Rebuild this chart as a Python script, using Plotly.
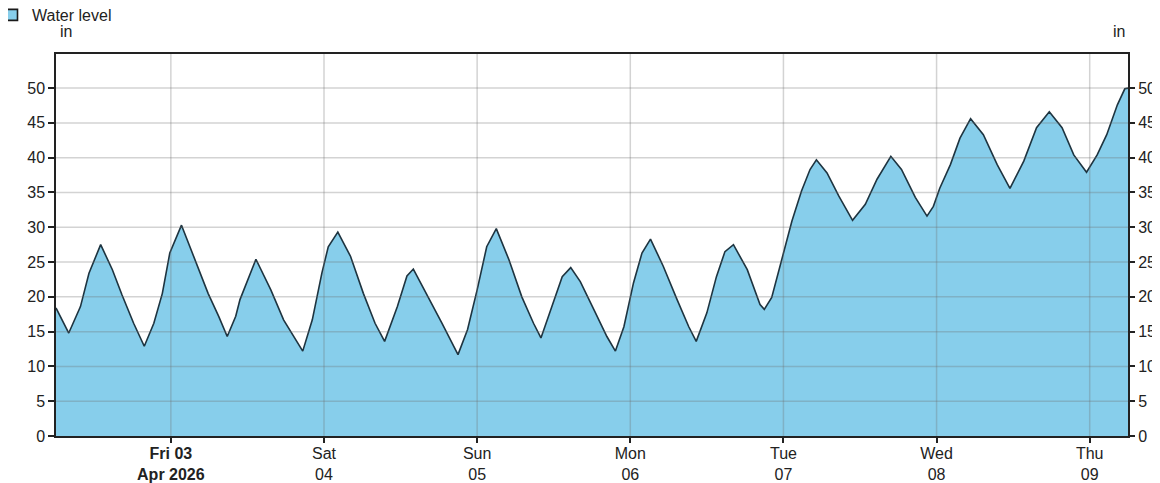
import plotly.graph_objects as go

# ---- data ----
times = [
    "2026-04-02 06:00", "2026-04-02 08:00", "2026-04-02 09:50", "2026-04-02 11:10", "2026-04-02 13:00",
    "2026-04-02 14:50", "2026-04-02 16:20", "2026-04-02 18:10", "2026-04-02 19:50", "2026-04-02 21:20",
    "2026-04-02 22:40", "2026-04-02 23:50", "2026-04-03 01:40", "2026-04-03 03:50", "2026-04-03 05:50",
    "2026-04-03 07:30", "2026-04-03 08:50", "2026-04-03 10:10", "2026-04-03 10:50", "2026-04-03 13:20",
    "2026-04-03 15:40", "2026-04-03 17:40", "2026-04-03 20:40", "2026-04-03 22:10", "2026-04-03 23:40",
    "2026-04-04 00:40", "2026-04-04 02:10", "2026-04-04 04:10", "2026-04-04 06:10", "2026-04-04 08:00",
    "2026-04-04 09:30", "2026-04-04 11:30", "2026-04-04 13:00", "2026-04-04 14:00", "2026-04-04 16:20",
    "2026-04-04 18:30", "2026-04-04 21:00", "2026-04-04 22:30", "2026-04-05 00:00", "2026-04-05 01:30",
    "2026-04-05 03:00", "2026-04-05 05:00", "2026-04-05 07:00", "2026-04-05 08:50", "2026-04-05 10:00",
    "2026-04-05 11:40", "2026-04-05 13:20", "2026-04-05 14:40", "2026-04-05 16:10", "2026-04-05 18:20",
    "2026-04-05 20:20", "2026-04-05 21:40", "2026-04-05 23:00", "2026-04-06 00:30", "2026-04-06 01:50",
    "2026-04-06 03:10", "2026-04-06 05:10", "2026-04-06 07:20", "2026-04-06 09:10", "2026-04-06 10:20",
    "2026-04-06 12:00", "2026-04-06 13:30", "2026-04-06 14:50", "2026-04-06 16:10", "2026-04-06 18:20",
    "2026-04-06 20:20", "2026-04-06 21:00", "2026-04-06 22:10", "2026-04-06 23:10", "2026-04-07 00:20",
    "2026-04-07 01:20", "2026-04-07 02:50", "2026-04-07 04:10", "2026-04-07 05:10", "2026-04-07 06:50",
    "2026-04-07 08:40", "2026-04-07 10:50", "2026-04-07 12:50", "2026-04-07 14:40", "2026-04-07 16:50",
    "2026-04-07 18:30", "2026-04-07 20:40", "2026-04-07 22:30", "2026-04-07 23:30", "2026-04-08 00:30",
    "2026-04-08 02:10", "2026-04-08 03:40", "2026-04-08 05:20", "2026-04-08 07:20", "2026-04-08 09:30",
    "2026-04-08 11:30", "2026-04-08 13:40", "2026-04-08 15:40", "2026-04-08 17:40", "2026-04-08 19:40",
    "2026-04-08 21:30", "2026-04-08 23:30", "2026-04-09 01:10", "2026-04-09 02:40", "2026-04-09 04:20",
    "2026-04-09 05:30", "2026-04-09 06:00",
]
water_level = [
    18.4, 14.8, 18.6, 23.4, 27.5,
    23.9, 20.3, 16.2, 12.9, 16.2,
    20.5, 26.3, 30.3, 25.3, 20.5,
    17.2, 14.3, 17.2, 19.6, 25.4,
    21.0, 16.7, 12.2, 16.7, 23.4,
    27.2, 29.3, 25.8, 20.5, 16.2,
    13.6, 18.6, 23.0, 24.0, 20.0,
    16.2, 11.7, 15.3, 21.0, 27.2,
    29.8, 25.3, 20.0, 16.2, 14.1,
    18.6, 22.9, 24.2, 22.2, 18.1,
    14.3, 12.2, 15.7, 22.0, 26.3,
    28.3, 24.4, 19.6, 15.7, 13.6,
    17.7, 22.9, 26.5, 27.5, 23.9,
    18.9, 18.2, 19.9, 23.3, 27.6,
    30.9, 35.2, 38.3, 39.7, 37.8,
    34.5, 31.0, 33.3, 36.9, 40.2,
    38.3, 34.3, 31.6, 33.0, 35.6,
    39.0, 42.8, 45.6, 43.3, 39.0,
    35.6, 39.5, 44.3, 46.6, 44.3,
    40.4, 37.9, 40.4, 43.3, 47.6,
    49.9, 50.0,
]
day_ticks = ["2026-04-03", "2026-04-04", "2026-04-05", "2026-04-06",
             "2026-04-07", "2026-04-08", "2026-04-09"]
day_labels = ["<b>Fri 03</b><br><b>Apr 2026</b>", "Sat<br>04", "Sun<br>05", "Mon<br>06",
              "Tue<br>07", "Wed<br>08", "Thu<br>09"]
y_ticks = [0, 5, 10, 15, 20, 25, 30, 35, 40, 45, 50]
series_name = "Water level"
unit_label = "in"

FILL = "#87CEEB"
LINE = "#1e3440"
FONT = dict(family="Liberation Sans, Arial, sans-serif", size=16, color="#222222")
GRID = "rgba(110,110,110,0.30)"

fig = go.Figure()
fig.add_trace(go.Scatter(
    x=times, y=water_level, mode="lines", fill="tozeroy",
    fillcolor=FILL, line=dict(color=LINE, width=1.6),
    showlegend=False, hoverinfo="x+y",
))
# legend entry (square swatch)
fig.add_trace(go.Scatter(
    x=[None], y=[None], mode="markers", name=series_name, yaxis="y2",
    marker=dict(symbol="square", size=11, color=FILL, line=dict(color="#1a1a1a", width=1.6)),
))

# grid lines drawn above the filled area
shapes = []
for t in y_ticks[1:]:
    shapes.append(dict(type="line", xref="paper", x0=0, x1=1, yref="y", y0=t, y1=t,
                       line=dict(color=GRID, width=1.5), layer="above"))
for d in day_ticks:
    shapes.append(dict(type="line", xref="x", x0=d, x1=d, yref="paper", y0=0, y1=1,
                       line=dict(color=GRID, width=1.5), layer="above"))

# the page body adds an 8px offset, so the figure is 8px smaller on each axis
y_range = [0, 54.9]
fig.update_layout(
    width=1152, height=475,
    margin=dict(l=48, r=32, t=46, b=47, autoexpand=False),
    paper_bgcolor="white", plot_bgcolor="white",
    font=FONT,
    shapes=shapes,
    showlegend=True,
    legend=dict(x=-0.0597, y=1.1466, xanchor="left", yanchor="top",
                font=dict(family=FONT["family"], size=16, color="#222222"),
                bgcolor="rgba(0,0,0,0)", itemwidth=30, tracegroupgap=0),
    xaxis=dict(
        type="date", range=["2026-04-02 06:00", "2026-04-09 06:00"],
        tickmode="array", tickvals=day_ticks, ticktext=day_labels,
        ticks="outside", ticklen=5, tickwidth=1.5, tickcolor="#222222",
        showline=True, linecolor="#222222", linewidth=1.5, mirror=True,
        showgrid=False, zeroline=False, tickfont=FONT, automargin=False,
        ticklabelstandoff=-3,
    ),
    yaxis=dict(
        range=y_range, tickmode="array", tickvals=y_ticks,
        ticks="outside", ticklen=6, tickwidth=1.5, tickcolor="#222222",
        showline=True, linecolor="#222222", linewidth=1.5, mirror=True,
        showgrid=False, zeroline=False, tickfont=FONT, automargin=False,
    ),
    yaxis2=dict(
        range=y_range, overlaying="y", side="right", tickmode="array", tickvals=y_ticks,
        ticks="outside", ticklen=6, tickwidth=1.5, tickcolor="#222222",
        showline=False, showgrid=False, zeroline=False, tickfont=FONT, automargin=False,
    ),
    annotations=[
        dict(text=unit_label, xref="paper", yref="paper", x=0.0096, y=1.0576,
             xanchor="center", yanchor="middle", showarrow=False, font=FONT),
        dict(text=unit_label, xref="paper", yref="paper", x=0.9914, y=1.0576,
             xanchor="center", yanchor="middle", showarrow=False, font=FONT),
    ],
)

fig.write_html("out.html")
